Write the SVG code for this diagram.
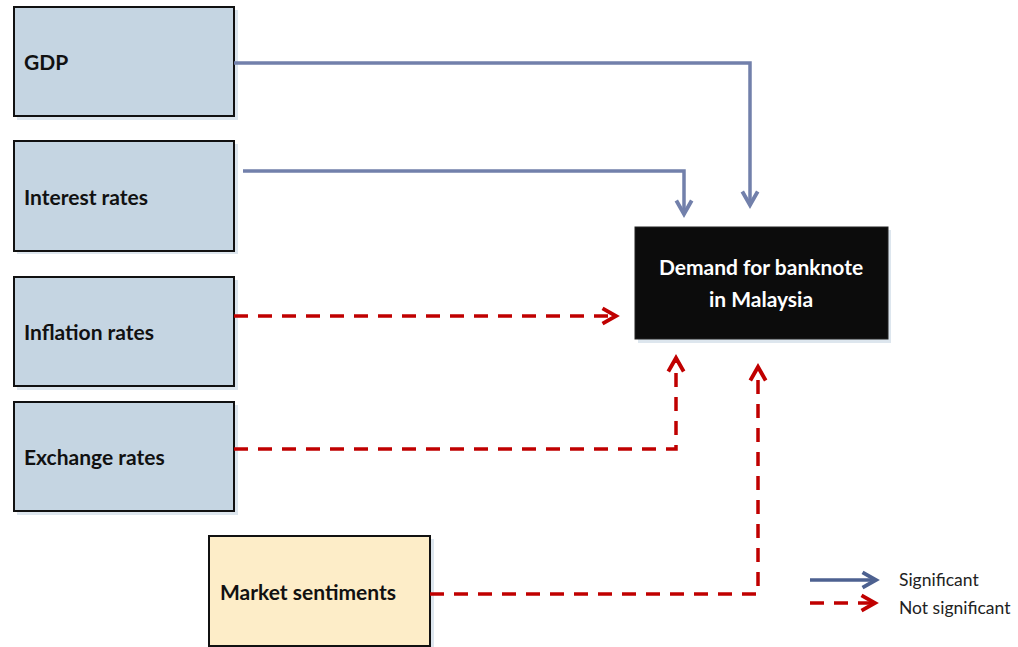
<svg xmlns="http://www.w3.org/2000/svg" width="1018" height="647" viewBox="0 0 1018 647">
<style>
.box{fill:#c5d5e2;stroke:#111;stroke-width:2}
.shadow{fill:#dde6ee}
.lbl{font-family:Lato,"Open Sans",sans-serif;font-weight:bold;font-size:21px;fill:#111}
.sig{fill:none;stroke:#7280ab;stroke-width:3.5}
.ns{fill:none;stroke:#c00000;stroke-width:3.5;stroke-dasharray:14 10}
.leg{font-family:Lato,"Open Sans",sans-serif;font-size:17.5px;fill:#222}
</style>
<defs>
<marker id="ab" viewBox="0 0 10 10" refX="8" refY="5" markerWidth="5.5" markerHeight="5.5" orient="auto" markerUnits="strokeWidth">
<path d="M1,1 L8,5 L1,9" fill="none" stroke="#7280ab" stroke-width="2"/>
</marker>
<marker id="ar" viewBox="0 0 10 10" refX="8" refY="5" markerWidth="5.5" markerHeight="5.5" orient="auto" markerUnits="strokeWidth">
<path d="M1,1 L8,5 L1,9" fill="none" stroke="#c00000" stroke-width="2"/>
</marker>
<marker id="abl" viewBox="0 0 10 10" refX="8" refY="5" markerWidth="5.5" markerHeight="5.5" orient="auto" markerUnits="strokeWidth">
<path d="M1,1 L8,5 L1,9" fill="none" stroke="#4d6190" stroke-width="2"/>
</marker>
</defs>
<g id="gdp">
<rect class="shadow" x="17" y="10" width="221" height="110"/>
<rect class="box" x="14" y="7" width="220" height="109"/>
<text class="lbl" x="24" y="70">GDP</text>
</g>
<g id="interest">
<rect class="shadow" x="17" y="144" width="221" height="110"/>
<rect class="box" x="14" y="141" width="220" height="110"/>
<text class="lbl" x="24" y="205">Interest rates</text>
</g>
<g id="inflation">
<rect class="shadow" x="17" y="280" width="221" height="110"/>
<rect class="box" x="14" y="277" width="220" height="109"/>
<text class="lbl" x="24" y="340">Inflation rates</text>
</g>
<g id="exchange">
<rect class="shadow" x="17" y="405" width="221" height="110"/>
<rect class="box" x="14" y="402" width="220" height="109"/>
<text class="lbl" x="24" y="465">Exchange rates</text>
</g>
<g id="market">
<rect class="shadow" x="212" y="539" width="222" height="110"/>
<rect x="209" y="536" width="221" height="110" fill="#fdedc8" stroke="#111" stroke-width="2"/>
<text class="lbl" x="220" y="600">Market sentiments</text>
</g>
<g id="demand">
<rect class="shadow" x="638" y="230" width="253" height="113"/>
<rect x="635" y="227" width="253" height="112" fill="#0c0c0c" stroke="#222" stroke-width="1"/>
<text font-family="Lato,'Open Sans',sans-serif" font-weight="bold" font-size="21" fill="#fff" text-anchor="middle" x="761" y="275">Demand for banknote</text>
<text font-family="Lato,'Open Sans',sans-serif" font-weight="bold" font-size="21" fill="#fff" text-anchor="middle" x="761" y="307">in Malaysia</text>
</g>
<g id="connectors">
<path class="sig" d="M234,63 H750 V205" marker-end="url(#ab)"/>
<path class="sig" d="M243,171 H684 V214" marker-end="url(#ab)"/>
<path class="ns" d="M234,316 H616" marker-end="url(#ar)"/>
<path class="ns" d="M234,449 H676 V358" marker-end="url(#ar)"/>
<path class="ns" d="M430,594 H758 V367" marker-end="url(#ar)"/>
</g>
<g id="legend">
<path d="M810,580 H876" fill="none" stroke="#4d6190" stroke-width="3.5" marker-end="url(#abl)"/>
<path d="M810,603 H875" fill="none" stroke="#c00000" stroke-width="3.5" stroke-dasharray="14 10" marker-end="url(#ar)"/>
<text class="leg" x="899" y="586">Significant</text>
<text class="leg" x="899" y="614">Not significant</text>
</g>
</svg>
